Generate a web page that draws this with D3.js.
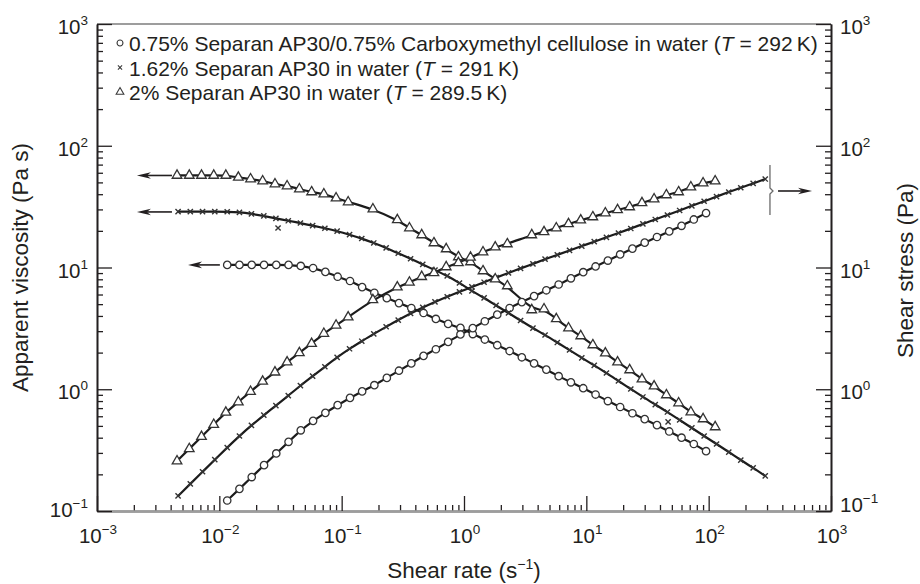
<!DOCTYPE html>
<html>
<head>
<meta charset="utf-8">
<title>Apparent viscosity and shear stress vs shear rate</title>
<script src="https://cdn.jsdelivr.net/npm/d3@7"></script>
<style>
  body { margin: 0; background: #fff; }
  svg text { font-family: "Liberation Sans", Arial, Helvetica, sans-serif; fill: #231f20; }
</style>
</head>
<body>
<script>
// 0.75% Separan AP30 / 0.75% CMC (circles)
const cmcRate = [0.0116, 0.0146, 0.0184, 0.0232, 0.0292, 0.0368, 0.0463, 0.0584, 0.0736, 0.0927,
  0.117, 0.147, 0.185, 0.234, 0.294, 0.371, 0.467, 0.589, 0.742, 0.935,
  1.18, 1.48, 1.87, 2.36, 2.97, 3.74, 4.71, 5.94, 7.48, 9.43,
  11.9, 15.0, 18.9, 23.8, 30.0, 37.8, 47.6, 60.0, 75.6, 95.2];
const cmcViscosity = [10.5, 10.5, 10.5, 10.5, 10.5, 10.5, 10.3, 9.9, 9.2, 8.4,
  7.75, 6.9, 6.2, 5.6, 5.1, 4.65, 4.23, 3.78, 3.44, 3.19,
  2.84, 2.56, 2.30, 2.06, 1.83, 1.63, 1.45, 1.28, 1.14, 1.02,
  0.905, 0.80, 0.715, 0.635, 0.568, 0.507, 0.450, 0.400, 0.355, 0.310];
const cmcStress = [0.122, 0.152, 0.190, 0.238, 0.297, 0.370, 0.460, 0.550, 0.640, 0.740,
  0.850, 0.960, 1.08, 1.24, 1.42, 1.63, 1.88, 2.13, 2.45, 2.82,
  3.18, 3.62, 4.10, 4.65, 5.20, 5.82, 6.50, 7.25, 8.15, 9.15,
  10.2, 11.4, 12.8, 14.3, 16.0, 17.8, 19.8, 22.0, 24.8, 28.0];

// 1.62% Separan AP30 (crosses)
const sepRate = [0.0046, 0.00579, 0.00729, 0.00918, 0.0116, 0.0146, 0.0183, 0.0231, 0.0290, 0.0366,
  0.0460, 0.0579, 0.0729, 0.0918, 0.116, 0.146, 0.183, 0.231, 0.290, 0.366,
  0.460, 0.579, 0.729, 0.918, 1.16, 1.46, 1.83, 2.31, 2.90, 3.66,
  4.60, 5.79, 7.29, 9.18, 11.6, 14.6, 18.3, 23.1, 29.0, 36.6,
  46.0, 57.9, 72.9, 91.8, 116, 146, 183, 231, 290];
const sepViscosity = [28.8, 28.8, 28.8, 28.8, 28.7, 28.4, 27.6, 26.5, 25.3, 24.2,
  23.2, 22.1, 21.0, 19.9, 18.6, 17.3, 15.9, 14.5, 13.1, 11.8,
  10.6, 9.5, 8.55, 7.46, 6.41, 5.62, 4.88, 4.23, 3.67, 3.18,
  2.79, 2.42, 2.10, 1.81, 1.57, 1.36, 1.17, 1.005, 0.864, 0.749,
  0.650, 0.559, 0.481, 0.413, 0.355, 0.305, 0.262, 0.226, 0.194];
const sepStress = [0.133, 0.167, 0.210, 0.264, 0.332, 0.413, 0.505, 0.612, 0.734, 0.886,
  1.07, 1.28, 1.53, 1.83, 2.15, 2.48, 2.85, 3.26, 3.70, 4.19,
  4.70, 5.22, 5.75, 6.31, 6.92, 7.57, 8.26, 9.02, 9.84, 10.7,
  11.7, 12.7, 13.8, 15.0, 16.3, 17.7, 19.2, 20.9, 22.8, 24.8,
  27.0, 29.4, 32.1, 35.0, 38.2, 41.7, 45.2, 49.0, 53.3];
// two crosses that sit off the curve
const sepStrayRate = [0.0302, 46.6];
const sepStrayValue = [21.1, 0.54];

// 2% Separan AP30 (triangles)
const sep2Rate = [0.00451, 0.00568, 0.00715, 0.00900, 0.0113, 0.0143, 0.0180, 0.0226, 0.0285, 0.0358,
  0.0451, 0.0568, 0.0715, 0.0900, 0.113, 0.180, 0.285, 0.358, 0.451, 0.568,
  0.715, 0.900, 1.13, 1.43, 1.80, 2.26, 3.58, 4.51, 5.68, 7.15,
  9.00, 11.3, 14.3, 18.0, 22.6, 28.5, 35.8, 45.1, 56.8, 71.5,
  90.0, 113];
const sep2Viscosity = [57, 57, 57, 57, 57, 55, 53.3, 51.3, 48.5, 46.7,
  44.1, 41.7, 40.1, 37.2, 34.5, 30.2, 24.6, 21.1, 18.5, 15.9,
  14.2, 12.2, 11.1, 9.36, 8.04, 7.05, 4.48, 4.56, 3.78, 3.18,
  2.74, 2.31, 1.98, 1.67, 1.44, 1.21, 1.06, 0.897, 0.771, 0.650,
  0.570, 0.490];
const sep2Stress = [0.257, 0.324, 0.408, 0.513, 0.646, 0.785, 0.957, 1.16, 1.38, 1.67,
  1.99, 2.37, 2.87, 3.35, 3.91, 5.42, 6.9, 7.56, 8.4, 9.03,
  10.1, 10.9, 12.1, 13.4, 14.7, 15.6, 18.5, 19.6, 21.1, 22.8,
  24.5, 26.0, 28.0, 29.7, 31.4, 33.9, 36.5, 39.4, 41.7, 45.8,
  49.4, 51.3];

const legendNames = ["0.75% Separan AP30/0.75% Carboxymethyl cellulose in water",
  "1.62% Separan AP30 in water", "2% Separan AP30 in water"];
const legendTemps = ["292", "291", "289.5"];
const xExponents = [-3, -2, -1, 0, 1, 2, 3];
const yExponents = [-1, 0, 1, 2, 3];

// Setup the canvas and scales
const w = 920, h = 584;
const plot = { left: 97, right: 831, top: 24, bottom: 511 };
const ink = "#231f20";

const x = d3.scaleLog().domain([1e-3, 1e3]).range([plot.left, plot.right]);
const y = d3.scaleLog().domain([1e-1, 1e3]).range([plot.bottom, plot.top]);

const svg = d3.select("body").append("svg")
  .attr("width", w)
  .attr("height", h);

// major ticks at the decades, minor ticks at 2..9
const majorTicks = exps => exps.map(e => Math.pow(10, e));
const minorTicks = exps => exps.slice(0, -1).flatMap(e => d3.range(2, 10).map(k => k * Math.pow(10, e)));

// top frame line (no ticks)
svg.append("line")
  .attr("x1", x(1e-3)).attr("x2", x(1e3))
  .attr("y1", y(1e3)).attr("y2", y(1e3))
  .attr("stroke", "#9d9d9d")
  .attr("stroke-width", 2);

const axes = [
  { make: () => d3.axisBottom(x), exps: xExponents, t: `translate(0,${plot.bottom})`, domain: "#9d9d9d", dw: 2.5 },
  { make: () => d3.axisLeft(y), exps: yExponents, t: `translate(${plot.left},0)`, domain: ink, dw: 1.6 },
  { make: () => d3.axisRight(y), exps: yExponents, t: `translate(${plot.right},0)`, domain: ink, dw: 1.6 }
];

axes.forEach(a => {
  const g = svg.append("g").attr("transform", a.t);
  g.append("g").call(a.make().tickValues(minorTicks(a.exps)).tickSize(-6).tickSizeOuter(0).tickFormat(""));
  g.append("g").call(a.make().tickValues(majorTicks(a.exps)).tickSize(-15).tickSizeOuter(0).tickFormat(""));
  g.selectAll(".domain").attr("stroke", a.domain).attr("stroke-width", a.dw);
  g.selectAll(".tick line").attr("stroke", ink).attr("stroke-width", 1.3);
});

// tick labels as 10 with a superscript
function powerLabel(text, e) {
  text.append("tspan").text("10");
  text.append("tspan")
    .attr("dy", -9)
    .attr("font-size", 13.5)
    .text(e < 0 ? "\u2212" + Math.abs(e) : String(e));
}

xExponents.forEach(e => {
  const t = svg.append("text")
    .attr("x", x(Math.pow(10, e)) + 1)
    .attr("y", 543)
    .attr("text-anchor", "middle")
    .attr("font-size", 20.5);
  powerLabel(t, e);
});

yExponents.forEach(e => {
  const left = svg.append("text")
    .attr("x", plot.left - 9)
    .attr("y", y(Math.pow(10, e)) + (e === -1 ? 6 : 10))
    .attr("text-anchor", "end")
    .attr("font-size", 20.5);
  powerLabel(left, e);
  const right = svg.append("text")
    .attr("x", plot.right + 9)
    .attr("y", y(Math.pow(10, e)) + (e === -1 ? 1 : 10))
    .attr("text-anchor", "start")
    .attr("font-size", 20.5);
  powerLabel(right, e);
});

// Axis titles
svg.append("text")
  .attr("transform", `translate(28,${(plot.top + plot.bottom) / 2}) rotate(-90)`)
  .attr("text-anchor", "middle")
  .attr("font-size", 22.5)
  .text("Apparent viscosity (Pa s)");

svg.append("text")
  .attr("transform", `translate(913,${(plot.top + plot.bottom) / 2 + 3}) rotate(-90)`)
  .attr("text-anchor", "middle")
  .attr("font-size", 22.5)
  .text("Shear stress (Pa)");

const xTitle = svg.append("text")
  .attr("x", (plot.left + plot.right) / 2)
  .attr("y", 578)
  .attr("text-anchor", "middle")
  .attr("font-size", 22.5);
xTitle.append("tspan").text("Shear rate (s");
xTitle.append("tspan").attr("dy", -9).attr("font-size", 14).text("\u22121");
xTitle.append("tspan").attr("dy", 9).text(")");

// Markers
const markerPath = {
  circle: s => d3.symbol(d3.symbolCircle, 43 * s * s)(),
  triangle: s => d3.symbol(d3.symbolTriangle, 40 * s * s)(),
  cross: s => `M${-2.6 * s},${-2.6 * s}L${2.6 * s},${2.6 * s}M${-2.6 * s},${2.6 * s}L${2.6 * s},${-2.6 * s}`
};

const series = [
  { rate: cmcRate, visc: cmcViscosity, stress: cmcStress, mark: "circle" },
  { rate: sepRate, visc: sepViscosity, stress: sepStress, mark: "cross" },
  { rate: sep2Rate, visc: sep2Viscosity, stress: sep2Stress, mark: "triangle" }
];

const line = d3.line()
  .x(d => x(d[0]))
  .y(d => y(d[1]))
  .curve(d3.curveBasis);

// curves first, markers on top of them
series.forEach(s => {
  [s.visc, s.stress].forEach(vals => {
    svg.append("path")
      .datum(d3.zip(s.rate, vals))
      .attr("d", line)
      .attr("fill", "none")
      .attr("stroke", "#1c1c1c")
      .attr("stroke-width", 2.2);
  });
});

function drawMarks(points, mark, scale) {
  svg.append("g").selectAll("path")
    .data(points)
    .enter()
    .append("path")
    .attr("transform", d => `translate(${x(d[0])},${y(d[1])})`)
    .attr("d", markerPath[mark](scale))
    .attr("fill", mark === "cross" ? "none" : "#fff")
    .attr("stroke", "#333")
    .attr("stroke-width", mark === "cross" ? 1.4 : 1.3);
}

series.forEach(s => {
  drawMarks(d3.zip(s.rate, s.visc), s.mark, 1);
  drawMarks(d3.zip(s.rate, s.stress), s.mark, 1);
});
drawMarks(d3.zip(sepStrayRate, sepStrayValue), "cross", 1);

// Legend
const legend = svg.append("g");
series.forEach((s, i) => {
  const by = 51 + i * 24.5;
  legend.append("path")
    .attr("transform", `translate(120,${by - 8})`)
    .attr("d", markerPath[s.mark](0.8))
    .attr("fill", s.mark === "cross" ? "none" : "#fff")
    .attr("stroke", "#3a3a3a")
    .attr("stroke-width", 1.1);
  const t = legend.append("text")
    .attr("x", 129)
    .attr("y", by)
    .attr("font-size", 21);
  t.append("tspan").text(legendNames[i] + " (");
  t.append("tspan").attr("font-style", "italic").text("T");
  t.append("tspan").text(" = " + legendTemps[i] + "\u2009K)");
});

// Arrows pointing to the viscosity axis and the shear stress axis
function arrow(fromRate, toRate, value) {
  const x0 = x(fromRate), x1 = x(toRate), yy = y(value);
  const dir = x1 < x0 ? 1 : -1;
  svg.append("line")
    .attr("x1", x0).attr("x2", x1 + dir * 10)
    .attr("y1", yy).attr("y2", yy)
    .attr("stroke", ink)
    .attr("stroke-width", 1.6);
  svg.append("path")
    .attr("d", `M${x1},${yy}L${x1 + dir * 14},${yy - 3.3}L${x1 + dir * 10},${yy}L${x1 + dir * 14},${yy + 3.3}Z`)
    .attr("fill", ink);
}

arrow(0.0041, 0.00212, 57);
arrow(0.0041, 0.00212, 28.6);
arrow(0.0101, 0.00555, 10.5);
arrow(369, 700, 42.5);

// bracket grouping the three shear stress curves
const bx = x(317);
svg.append("path")
  .attr("d", `M${bx},${y(69.5)}V${y(42.5) - 3}l3,3l-3,3V${y(27)}`)
  .attr("fill", "none")
  .attr("stroke", "#6a6a6a")
  .attr("stroke-width", 1.3);
</script>
</body>
</html>
